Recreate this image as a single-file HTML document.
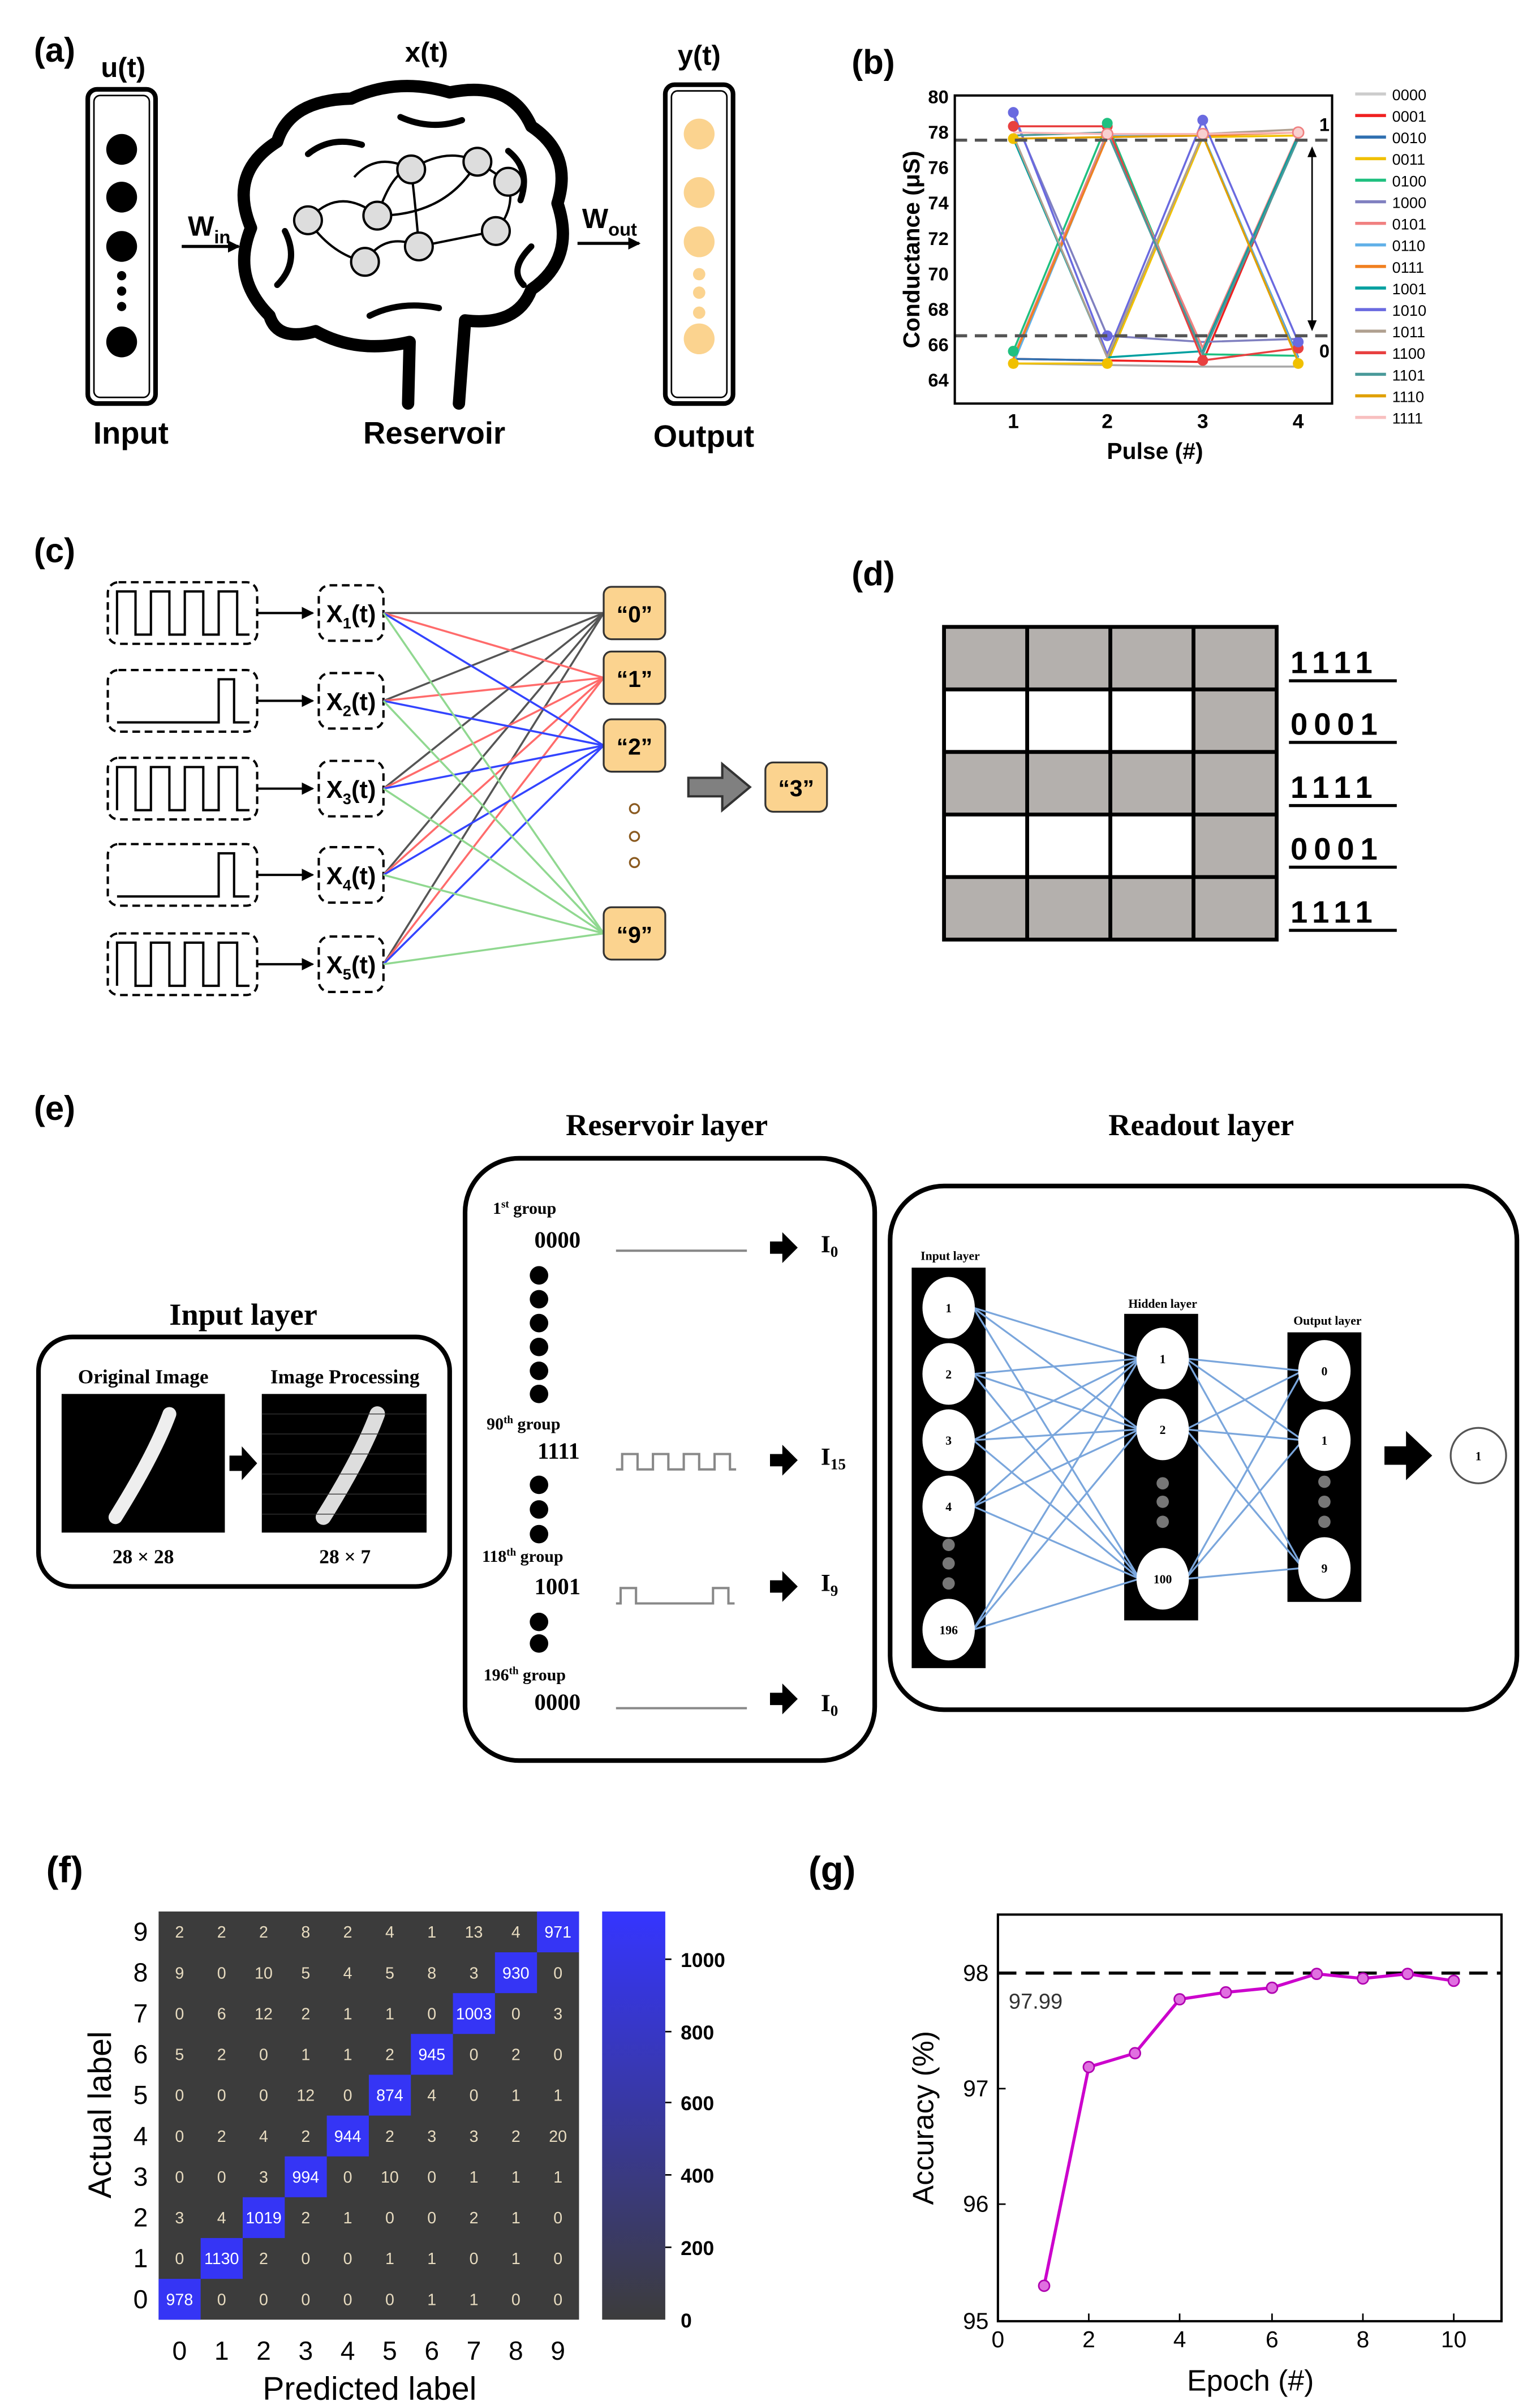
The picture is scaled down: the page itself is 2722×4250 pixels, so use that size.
<!DOCTYPE html>
<html><head><meta charset="utf-8"><style>
html,body{margin:0;padding:0;background:#fff;}
svg{display:block;}
.b{font-family:"Liberation Sans",sans-serif;font-weight:bold;}
.s{font-family:"Liberation Serif",serif;font-weight:bold;}
.r{font-family:"Liberation Sans",sans-serif;}
</style></head><body>
<svg width="2722" height="4250" viewBox="0 0 1000 1561.4" preserveAspectRatio="none" xmlns="http://www.w3.org/2000/svg">
<defs>
<linearGradient id="cb" x1="0" y1="1" x2="0" y2="0"><stop offset="0" stop-color="#3c3c3c"/><stop offset="1" stop-color="#3535ff"/></linearGradient>
<marker id="ah" markerWidth="8" markerHeight="8" refX="7" refY="4" orient="auto" markerUnits="userSpaceOnUse"><path d="M0,0 L8,4 L0,8 Z" fill="#000"/></marker>
</defs>

<!-- (a) -->
<text x="22" y="40" class="b" font-size="22">(a)</text>
<text x="80" y="50" class="b" font-size="18" text-anchor="middle">u(t)</text>
<rect x="57" y="58" width="44" height="204" rx="6" fill="#fff" stroke="#000" stroke-width="3"/>
<rect x="61" y="62" width="36" height="196" rx="4" fill="none" stroke="#000" stroke-width="1"/>
<circle cx="79" cy="97" r="10"/><circle cx="79" cy="128" r="10"/><circle cx="79" cy="160" r="10"/>
<circle cx="79" cy="179" r="3"/><circle cx="79" cy="189" r="3"/><circle cx="79" cy="199" r="3"/>
<circle cx="79" cy="222" r="10"/>
<text x="85" y="288" class="b" font-size="20" text-anchor="middle">Input</text>
<text x="122" y="153" class="b" font-size="18">W<tspan font-size="12" dy="5">in</tspan></text>
<line x1="118" y1="160" x2="155" y2="160" stroke="#000" stroke-width="2" marker-end="url(#ah)"/>
<text x="277" y="40" class="b" font-size="18" text-anchor="middle">x(t)</text>
<path d="M175,205 Q150,180 163,148 Q148,112 180,92 Q188,65 228,64 Q258,50 292,60 Q332,52 345,82 Q372,100 362,132 Q374,168 345,188 Q336,212 302,208 L298,262 M265,262 L266,222 Q232,230 205,215 Q180,222 175,205" fill="none" stroke="#000" stroke-width="8" stroke-linejoin="round" stroke-linecap="round"/>
<path d="M200,100 Q215,88 235,94 M260,76 Q280,85 300,78 M330,98 Q345,110 338,130 M185,150 Q195,170 180,185 M240,205 Q260,195 285,200 M345,160 Q330,175 340,185" fill="none" stroke="#000" stroke-width="4" stroke-linecap="round"/>
<g stroke="#000" stroke-width="1.5" fill="none">
<path d="M200,143 Q220,120 245,140"/><path d="M245,140 Q255,110 267,110"/><path d="M267,110 Q290,95 310,105"/><path d="M310,105 L330,118"/>
<path d="M237,170 Q250,150 272,160"/><path d="M272,160 L322,150"/><path d="M322,150 Q335,135 330,118"/><path d="M200,143 Q215,165 237,170"/>
<path d="M267,110 Q270,135 272,160"/><path d="M245,140 Q290,140 310,105"/><path d="M230,115 Q245,98 267,110"/>
</g>
<g fill="#ddd" stroke="#000" stroke-width="1.5">
<circle cx="245" cy="140" r="9"/><circle cx="267" cy="110" r="9"/><circle cx="310" cy="105" r="9"/><circle cx="330" cy="118" r="9"/>
<circle cx="200" cy="143" r="9"/><circle cx="237" cy="170" r="9"/><circle cx="272" cy="160" r="9"/><circle cx="322" cy="150" r="9"/>
</g>
<text x="282" y="288" class="b" font-size="20" text-anchor="middle">Reservoir</text>
<text x="378" y="148" class="b" font-size="18">W<tspan font-size="12" dy="5">out</tspan></text>
<line x1="375" y1="158" x2="415" y2="158" stroke="#000" stroke-width="2" marker-end="url(#ah)"/>
<text x="454" y="42" class="b" font-size="18" text-anchor="middle">y(t)</text>
<rect x="432" y="55" width="44" height="207" rx="6" fill="#fff" stroke="#000" stroke-width="3"/>
<rect x="436" y="59" width="36" height="199" rx="4" fill="none" stroke="#000" stroke-width="1"/>
<g fill="#fbd38f"><circle cx="454" cy="87" r="10"/><circle cx="454" cy="125" r="10"/><circle cx="454" cy="157" r="10"/><circle cx="454" cy="178" r="4"/><circle cx="454" cy="190" r="4"/><circle cx="454" cy="203" r="4"/><circle cx="454" cy="220" r="10"/></g>
<text x="457" y="290" class="b" font-size="20" text-anchor="middle">Output</text>

<!-- (b) -->
<text x="553" y="48" class="b" font-size="22">(b)</text>
<g class="b" font-size="12" text-anchor="end">
<text x="616" y="67">80</text><text x="616" y="90">78</text><text x="616" y="113">76</text><text x="616" y="136">74</text><text x="616" y="159">72</text><text x="616" y="182">70</text><text x="616" y="205">68</text><text x="616" y="228">66</text><text x="616" y="251">64</text>
</g>
<g class="b" font-size="13" text-anchor="middle"><text x="658" y="278">1</text><text x="719" y="278">2</text><text x="781" y="278">3</text><text x="843" y="278">4</text></g>
<text x="750" y="298" class="b" font-size="15" text-anchor="middle">Pulse (#)</text>
<text transform="translate(597,162) rotate(-90)" class="b" font-size="15" text-anchor="middle">Conductance (μS)</text>
<g fill="none" stroke-width="1.3">
<polyline points="658,236 719,237 781,238 843,238" stroke="#aaa"/>
<polyline points="658,233 719,234 781,235 843,88" stroke="#f02020"/>
<polyline points="658,233 719,234 781,88 843,232" stroke="#3070b0"/>
<polyline points="658,236 719,236 781,89 843,88" stroke="#f0c000"/>
<polyline points="658,228 719,80 781,230 843,231" stroke="#20c080"/>
<polyline points="658,75 719,218 781,222 843,220" stroke="#8080c0"/>
<polyline points="658,232 719,86 781,226 843,87" stroke="#f08080"/>
<polyline points="658,236 719,88 781,87 843,233" stroke="#60b0e8"/>
<polyline points="658,233 719,89 781,88 843,86" stroke="#f08020"/>
<polyline points="658,90 719,232 781,228 843,88" stroke="#00a0a0"/>
<polyline points="658,73 719,230 781,78 843,222" stroke="#6a6ae0"/>
<polyline points="658,88 719,232 781,87 843,84" stroke="#b0a090"/>
<polyline points="658,82 719,82 781,234 843,226" stroke="#e84040"/>
<polyline points="658,88 719,86 781,230 843,90" stroke="#4a9a9a"/>
<polyline points="658,90 719,89 781,88 843,235" stroke="#e0a000"/>
<polyline points="658,86 719,87 781,87 843,86" stroke="#f8b8b8"/>
</g>
<g fill="#e84040"><circle cx="658" cy="82" r="3.5"/><circle cx="719" cy="82" r="3.5"/><circle cx="781" cy="234" r="3.5"/><circle cx="843" cy="226" r="3.5"/></g>
<g fill="#20c080"><circle cx="658" cy="228" r="3.5"/><circle cx="719" cy="80" r="3.5"/></g>
<g fill="#6a6ae0"><circle cx="658" cy="73" r="3.5"/><circle cx="781" cy="78" r="3.5"/><circle cx="719" cy="218" r="3.5"/><circle cx="843" cy="222" r="3.5"/></g>
<g fill="#f0c000"><circle cx="658" cy="236" r="3.5"/><circle cx="719" cy="236" r="3.5"/><circle cx="843" cy="236" r="3.5"/><circle cx="658" cy="90" r="3.5"/></g>
<g fill="#f8d0d0" stroke="#f08080" stroke-width="1"><circle cx="719" cy="87" r="3.5"/><circle cx="781" cy="87" r="3.5"/><circle cx="843" cy="86" r="3.5"/></g>
<line x1="620" y1="91" x2="865" y2="91" stroke="#555" stroke-width="2" stroke-dasharray="8,5"/>
<line x1="620" y1="218" x2="865" y2="218" stroke="#555" stroke-width="2" stroke-dasharray="8,5"/>
<rect x="620" y="62" width="245" height="200" fill="none" stroke="#000" stroke-width="1.5"/>
<line x1="852" y1="97" x2="852" y2="213" stroke="#000" stroke-width="1"/>
<path d="M849,102 L852,95 L855,102Z M849,208 L852,215 L855,208Z"/>
<text x="860" y="85" class="b" font-size="12" text-anchor="middle">1</text>
<text x="860" y="232" class="b" font-size="12" text-anchor="middle">0</text>
<g class="r" font-size="10">
<g stroke-width="2">
<line x1="880" y1="61" x2="900" y2="61" stroke="#ccc"/><line x1="880" y1="75" x2="900" y2="75" stroke="#f02020"/><line x1="880" y1="89" x2="900" y2="89" stroke="#3070b0"/><line x1="880" y1="103" x2="900" y2="103" stroke="#f0c000"/><line x1="880" y1="117" x2="900" y2="117" stroke="#20c080"/><line x1="880" y1="131" x2="900" y2="131" stroke="#8080c0"/><line x1="880" y1="145" x2="900" y2="145" stroke="#f08080"/><line x1="880" y1="159" x2="900" y2="159" stroke="#60b0e8"/><line x1="880" y1="173" x2="900" y2="173" stroke="#f08020"/><line x1="880" y1="187" x2="900" y2="187" stroke="#00a0a0"/><line x1="880" y1="201" x2="900" y2="201" stroke="#6a6ae0"/><line x1="880" y1="215" x2="900" y2="215" stroke="#b0a090"/><line x1="880" y1="229" x2="900" y2="229" stroke="#e84040"/><line x1="880" y1="243" x2="900" y2="243" stroke="#4a9a9a"/><line x1="880" y1="257" x2="900" y2="257" stroke="#e0a000"/><line x1="880" y1="271" x2="900" y2="271" stroke="#f8c0c0"/>
</g>
<text x="904" y="65">0000</text><text x="904" y="79">0001</text><text x="904" y="93">0010</text><text x="904" y="107">0011</text><text x="904" y="121">0100</text><text x="904" y="135">1000</text><text x="904" y="149">0101</text><text x="904" y="163">0110</text><text x="904" y="177">0111</text><text x="904" y="191">1001</text><text x="904" y="205">1010</text><text x="904" y="219">1011</text><text x="904" y="233">1100</text><text x="904" y="247">1101</text><text x="904" y="261">1110</text><text x="904" y="275">1111</text>
</g>

<!-- (c) -->
<text x="22" y="365" class="b" font-size="22">(c)</text>
<g fill="none" stroke="#000" stroke-width="1.5" stroke-dasharray="5,3">
<rect x="70" y="378" width="97" height="40" rx="7"/><rect x="70" y="435" width="97" height="40" rx="7"/><rect x="70" y="492" width="97" height="40" rx="7"/><rect x="70" y="548" width="97" height="40" rx="7"/><rect x="70" y="606" width="97" height="40" rx="7"/>
<rect x="207" y="380" width="42" height="36" rx="7"/><rect x="207" y="437" width="42" height="36" rx="7"/><rect x="207" y="494" width="42" height="36" rx="7"/><rect x="207" y="550" width="42" height="36" rx="7"/><rect x="207" y="608" width="42" height="36" rx="7"/>
</g>
<g fill="none" stroke="#000" stroke-width="1.5">
<path d="M76,412 v-28 h12 v28 h10 v-28 h12 v28 h10 v-28 h12 v28 h10 v-28 h12 v28 h8"/>
<path d="M76,469 h66 v-28 h10 v28 h10"/>
<path d="M76,526 v-28 h12 v28 h10 v-28 h12 v28 h10 v-28 h12 v28 h10 v-28 h12 v28 h8"/>
<path d="M76,582 h66 v-28 h10 v28 h10"/>
<path d="M76,640 v-28 h12 v28 h10 v-28 h12 v28 h10 v-28 h12 v28 h10 v-28 h12 v28 h8"/>
</g>
<g stroke="#000" stroke-width="1.5">
<line x1="167" y1="398" x2="203" y2="398" marker-end="url(#ah)"/><line x1="167" y1="455" x2="203" y2="455" marker-end="url(#ah)"/><line x1="167" y1="512" x2="203" y2="512" marker-end="url(#ah)"/><line x1="167" y1="568" x2="203" y2="568" marker-end="url(#ah)"/><line x1="167" y1="626" x2="203" y2="626" marker-end="url(#ah)"/>
</g>
<g class="b" font-size="16" text-anchor="middle">
<text x="228" y="404">X<tspan font-size="10" dy="4">1</tspan><tspan dy="-4">(t)</tspan></text>
<text x="228" y="461">X<tspan font-size="10" dy="4">2</tspan><tspan dy="-4">(t)</tspan></text>
<text x="228" y="518">X<tspan font-size="10" dy="4">3</tspan><tspan dy="-4">(t)</tspan></text>
<text x="228" y="574">X<tspan font-size="10" dy="4">4</tspan><tspan dy="-4">(t)</tspan></text>
<text x="228" y="632">X<tspan font-size="10" dy="4">5</tspan><tspan dy="-4">(t)</tspan></text>
</g>
<g stroke-width="1.3">
<g stroke="#555"><line x1="249" y1="398" x2="392" y2="398"/><line x1="249" y1="455" x2="392" y2="398"/><line x1="249" y1="512" x2="392" y2="398"/><line x1="249" y1="568" x2="392" y2="398"/><line x1="249" y1="626" x2="392" y2="398"/></g>
<g stroke="#ff6b6b"><line x1="249" y1="398" x2="392" y2="440"/><line x1="249" y1="455" x2="392" y2="440"/><line x1="249" y1="512" x2="392" y2="440"/><line x1="249" y1="568" x2="392" y2="440"/><line x1="249" y1="626" x2="392" y2="440"/></g>
<g stroke="#3344ff"><line x1="249" y1="398" x2="392" y2="484"/><line x1="249" y1="455" x2="392" y2="484"/><line x1="249" y1="512" x2="392" y2="484"/><line x1="249" y1="568" x2="392" y2="484"/><line x1="249" y1="626" x2="392" y2="484"/></g>
<g stroke="#90d890"><line x1="249" y1="398" x2="392" y2="606"/><line x1="249" y1="455" x2="392" y2="606"/><line x1="249" y1="512" x2="392" y2="606"/><line x1="249" y1="568" x2="392" y2="606"/><line x1="249" y1="626" x2="392" y2="606"/></g>
</g>
<g fill="#fbd38f" stroke="#333" stroke-width="1.2">
<rect x="392" y="381" width="40" height="34" rx="5"/><rect x="392" y="423" width="40" height="34" rx="5"/><rect x="392" y="467" width="40" height="34" rx="5"/><rect x="392" y="589" width="40" height="34" rx="5"/><rect x="497" y="495" width="40" height="32" rx="5"/>
</g>
<g fill="none" stroke="#8a5a20" stroke-width="1.2"><circle cx="412" cy="525" r="3"/><circle cx="412" cy="543" r="3"/><circle cx="412" cy="560" r="3"/></g>
<g class="b" font-size="15" text-anchor="middle"><text x="412" y="404">“0”</text><text x="412" y="446">“1”</text><text x="412" y="490">“2”</text><text x="412" y="612">“9”</text><text x="517" y="517">“3”</text></g>
<path d="M447,505 h22 v-9 l18,15 l-18,15 v-9 h-22 Z" fill="#808080" stroke="#333" stroke-width="1.5"/>

<!-- (d) -->
<text x="553" y="380" class="b" font-size="22">(d)</text>
<g fill="#b4b0ad"><rect x="613" y="407" width="216" height="40.6"/><rect x="613" y="488.2" width="216" height="40.6"/><rect x="613" y="569.4" width="216" height="40.6"/><rect x="775" y="447.6" width="54" height="40.6"/><rect x="775" y="528.8" width="54" height="40.6"/></g>
<g stroke="#000" stroke-width="2.5" fill="none">
<rect x="613" y="407" width="216" height="203"/>
<line x1="667" y1="407" x2="667" y2="610"/><line x1="721" y1="407" x2="721" y2="610"/><line x1="775" y1="407" x2="775" y2="610"/>
<line x1="613" y1="447.6" x2="829" y2="447.6"/><line x1="613" y1="488.2" x2="829" y2="488.2"/><line x1="613" y1="528.8" x2="829" y2="528.8"/><line x1="613" y1="569.4" x2="829" y2="569.4"/>
</g>
<g class="b" font-size="20"><text x="838" y="437" letter-spacing="4">1111</text><text x="838" y="477" letter-spacing="4">0001</text><text x="838" y="518" letter-spacing="4">1111</text><text x="838" y="558" letter-spacing="4">0001</text><text x="838" y="599" letter-spacing="4">1111</text></g>
<g stroke="#000" stroke-width="2"><line x1="837" y1="442" x2="907" y2="442"/><line x1="837" y1="482" x2="907" y2="482"/><line x1="837" y1="523" x2="907" y2="523"/><line x1="837" y1="563" x2="907" y2="563"/><line x1="837" y1="604" x2="907" y2="604"/></g>

<!-- (e) -->
<text x="22" y="727" class="b" font-size="22">(e)</text>
<text x="158" y="860" class="s" font-size="20" text-anchor="middle">Input layer</text>
<rect x="25" y="868" width="267" height="162" rx="22" fill="none" stroke="#000" stroke-width="3"/>
<text x="93" y="898" class="s" font-size="13" text-anchor="middle">Original Image</text>
<text x="224" y="898" class="s" font-size="13" text-anchor="middle">Image Processing</text>
<rect x="40" y="905" width="106" height="90" fill="#000"/>
<path d="M110,918 Q100,945 75,985" stroke="#eee" stroke-width="9" fill="none" stroke-linecap="round"/>
<rect x="170" y="905" width="107" height="90" fill="#000"/>
<path d="M245,918 Q235,945 210,985" stroke="#ddd" stroke-width="10" fill="none" stroke-linecap="round"/>
<g stroke="#333" stroke-width="0.5"><line x1="170" y1="918" x2="277" y2="918"/><line x1="170" y1="931" x2="277" y2="931"/><line x1="170" y1="944" x2="277" y2="944"/><line x1="170" y1="957" x2="277" y2="957"/><line x1="170" y1="970" x2="277" y2="970"/><line x1="170" y1="983" x2="277" y2="983"/></g>
<path d="M149,945 h8 v-6 l10,11 l-10,11 v-6 h-8 Z"/>
<text x="93" y="1015" class="s" font-size="13" text-anchor="middle">28 × 28</text>
<text x="224" y="1015" class="s" font-size="13" text-anchor="middle">28 × 7</text>

<text x="433" y="737" class="s" font-size="20" text-anchor="middle">Reservoir layer</text>
<rect x="302" y="752" width="266" height="391" rx="35" fill="none" stroke="#000" stroke-width="3"/>
<g class="s" font-size="11"><text x="320" y="788">1<tspan font-size="7" dy="-4">st</tspan><tspan dy="4"> group</tspan></text>
<text x="316" y="928">90<tspan font-size="7" dy="-4">th</tspan><tspan dy="4"> group</tspan></text>
<text x="313" y="1014">118<tspan font-size="7" dy="-4">th</tspan><tspan dy="4"> group</tspan></text>
<text x="314" y="1091">196<tspan font-size="7" dy="-4">th</tspan><tspan dy="4"> group</tspan></text></g>
<g class="s" font-size="15"><text x="347" y="810">0000</text><text x="349" y="947">1111</text><text x="347" y="1035">1001</text><text x="347" y="1110">0000</text></g>
<g><circle cx="350" cy="828" r="6"/><circle cx="350" cy="843.5" r="6"/><circle cx="350" cy="859" r="6"/><circle cx="350" cy="874.5" r="6"/><circle cx="350" cy="890" r="6"/><circle cx="350" cy="905" r="6"/>
<circle cx="350" cy="964" r="6"/><circle cx="350" cy="980" r="6"/><circle cx="350" cy="996" r="6"/><circle cx="350" cy="1053" r="6"/><circle cx="350" cy="1067" r="6"/></g>
<g fill="none" stroke="#888" stroke-width="1.5">
<line x1="400" y1="812" x2="485" y2="812"/>
<path d="M400,954 h4 v-10 h10 v10 h10 v-10 h10 v10 h10 v-10 h10 v10 h10 v-10 h10 v10 h4"/>
<path d="M400,1041 h3 v-10 h10 v10 h50 v-10 h10 v10 h4"/>
<line x1="400" y1="1109" x2="485" y2="1109"/>
</g>
<g><path d="M500,806 h8 v-6 l10,10 l-10,10 v-6 h-8Z"/><path d="M500,944 h8 v-6 l10,10 l-10,10 v-6 h-8Z"/><path d="M500,1026 h8 v-6 l10,10 l-10,10 v-6 h-8Z"/><path d="M500,1099 h8 v-6 l10,10 l-10,10 v-6 h-8Z"/></g>
<g class="s" font-size="16"><text x="533" y="813">I<tspan font-size="10" dy="3">0</tspan></text><text x="533" y="951">I<tspan font-size="10" dy="3">15</tspan></text><text x="533" y="1033">I<tspan font-size="10" dy="3">9</tspan></text><text x="533" y="1111">I<tspan font-size="10" dy="3">0</tspan></text></g>

<text x="780" y="737" class="s" font-size="20" text-anchor="middle">Readout layer</text>
<rect x="578" y="770" width="407" height="340" rx="35" fill="none" stroke="#000" stroke-width="3"/>
<g class="s" font-size="8" text-anchor="middle"><text x="617" y="818">Input layer</text><text x="755" y="849">Hidden layer</text><text x="862" y="860">Output layer</text></g>
<rect x="592" y="823" width="48" height="260" fill="#000"/>
<rect x="730" y="853" width="48" height="199" fill="#000"/>
<rect x="836" y="865" width="48" height="175" fill="#000"/>
<g stroke="#7aa6dc" stroke-width="1.2">
<line x1="632" y1="849" x2="740" y2="882"/><line x1="632" y1="849" x2="740" y2="928"/><line x1="632" y1="849" x2="740" y2="1025"/>
<line x1="632" y1="892" x2="740" y2="882"/><line x1="632" y1="892" x2="740" y2="928"/><line x1="632" y1="892" x2="740" y2="1025"/>
<line x1="632" y1="935" x2="740" y2="882"/><line x1="632" y1="935" x2="740" y2="928"/><line x1="632" y1="935" x2="740" y2="1025"/>
<line x1="632" y1="978" x2="740" y2="882"/><line x1="632" y1="978" x2="740" y2="928"/><line x1="632" y1="978" x2="740" y2="1025"/>
<line x1="632" y1="1058" x2="740" y2="882"/><line x1="632" y1="1058" x2="740" y2="928"/><line x1="632" y1="1058" x2="740" y2="1025"/>
<line x1="770" y1="882" x2="846" y2="890"/><line x1="770" y1="882" x2="846" y2="935"/><line x1="770" y1="882" x2="846" y2="1018"/>
<line x1="770" y1="928" x2="846" y2="890"/><line x1="770" y1="928" x2="846" y2="935"/><line x1="770" y1="928" x2="846" y2="1018"/>
<line x1="770" y1="1025" x2="846" y2="890"/><line x1="770" y1="1025" x2="846" y2="935"/><line x1="770" y1="1025" x2="846" y2="1018"/>
</g>
<g fill="#fff"><ellipse cx="616" cy="849" rx="17" ry="20"/><ellipse cx="616" cy="892" rx="17" ry="20"/><ellipse cx="616" cy="935" rx="17" ry="20"/><ellipse cx="616" cy="978" rx="17" ry="20"/><ellipse cx="616" cy="1058" rx="17" ry="20"/>
<ellipse cx="755" cy="882" rx="17" ry="20"/><ellipse cx="755" cy="928" rx="17" ry="20"/><ellipse cx="755" cy="1025" rx="17" ry="20"/>
<ellipse cx="860" cy="890" rx="17" ry="20"/><ellipse cx="860" cy="935" rx="17" ry="20"/><ellipse cx="860" cy="1018" rx="17" ry="20"/></g>
<g fill="#777"><circle cx="616" cy="1003" r="4"/><circle cx="616" cy="1015" r="4"/><circle cx="616" cy="1028" r="4"/><circle cx="755" cy="963" r="4"/><circle cx="755" cy="975" r="4"/><circle cx="755" cy="988" r="4"/><circle cx="860" cy="962" r="4"/><circle cx="860" cy="975" r="4"/><circle cx="860" cy="988" r="4"/></g>
<g class="s" font-size="8" text-anchor="middle"><text x="616" y="852">1</text><text x="616" y="895">2</text><text x="616" y="938">3</text><text x="616" y="981">4</text><text x="616" y="1061">196</text><text x="755" y="885">1</text><text x="755" y="931">2</text><text x="755" y="1028">100</text><text x="860" y="893">0</text><text x="860" y="938">1</text><text x="860" y="1021">9</text><text x="960" y="948">1</text></g>
<path d="M899,939 h14 v-10 l17,16 l-17,16 v-10 h-14Z"/>
<circle cx="960" cy="945" r="18" fill="none" stroke="#555" stroke-width="1.2"/>

<!-- (f) -->
<text x="30" y="1222" class="b" font-size="24">(f)</text>
<rect x="103" y="1241" width="273" height="265" fill="#3c3c3c"/>
<g fill="#3535f5">
<rect x="103" y="1479.5" width="27.3" height="26.5"/><rect x="130.3" y="1453" width="27.3" height="26.5"/><rect x="157.6" y="1426.5" width="27.3" height="26.5"/><rect x="184.9" y="1400" width="27.3" height="26.5"/><rect x="212.2" y="1373.5" width="27.3" height="26.5"/><rect x="239.5" y="1347" width="27.3" height="26.5"/><rect x="266.8" y="1320.5" width="27.3" height="26.5"/><rect x="294.1" y="1294" width="27.3" height="26.5"/><rect x="321.4" y="1267.5" width="27.3" height="26.5"/><rect x="348.7" y="1241" width="27.3" height="26.5"/>
</g>
<g class="r" font-size="10.5" fill="#e8dcc0" text-anchor="middle">
<text x="116.6" y="1258">2</text><text x="143.9" y="1258">2</text><text x="171.2" y="1258">2</text><text x="198.5" y="1258">8</text><text x="225.8" y="1258">2</text><text x="253.1" y="1258">4</text><text x="280.4" y="1258">1</text><text x="307.7" y="1258">13</text><text x="335" y="1258">4</text><text x="362.3" y="1258" fill="#fff">971</text>
<text x="116.6" y="1284.5">9</text><text x="143.9" y="1284.5">0</text><text x="171.2" y="1284.5">10</text><text x="198.5" y="1284.5">5</text><text x="225.8" y="1284.5">4</text><text x="253.1" y="1284.5">5</text><text x="280.4" y="1284.5">8</text><text x="307.7" y="1284.5">3</text><text x="335" y="1284.5" fill="#fff">930</text><text x="362.3" y="1284.5">0</text>
<text x="116.6" y="1311">0</text><text x="143.9" y="1311">6</text><text x="171.2" y="1311">12</text><text x="198.5" y="1311">2</text><text x="225.8" y="1311">1</text><text x="253.1" y="1311">1</text><text x="280.4" y="1311">0</text><text x="307.7" y="1311" fill="#fff">1003</text><text x="335" y="1311">0</text><text x="362.3" y="1311">3</text>
<text x="116.6" y="1337.5">5</text><text x="143.9" y="1337.5">2</text><text x="171.2" y="1337.5">0</text><text x="198.5" y="1337.5">1</text><text x="225.8" y="1337.5">1</text><text x="253.1" y="1337.5">2</text><text x="280.4" y="1337.5" fill="#fff">945</text><text x="307.7" y="1337.5">0</text><text x="335" y="1337.5">2</text><text x="362.3" y="1337.5">0</text>
<text x="116.6" y="1364">0</text><text x="143.9" y="1364">0</text><text x="171.2" y="1364">0</text><text x="198.5" y="1364">12</text><text x="225.8" y="1364">0</text><text x="253.1" y="1364" fill="#fff">874</text><text x="280.4" y="1364">4</text><text x="307.7" y="1364">0</text><text x="335" y="1364">1</text><text x="362.3" y="1364">1</text>
<text x="116.6" y="1390.5">0</text><text x="143.9" y="1390.5">2</text><text x="171.2" y="1390.5">4</text><text x="198.5" y="1390.5">2</text><text x="225.8" y="1390.5" fill="#fff">944</text><text x="253.1" y="1390.5">2</text><text x="280.4" y="1390.5">3</text><text x="307.7" y="1390.5">3</text><text x="335" y="1390.5">2</text><text x="362.3" y="1390.5">20</text>
<text x="116.6" y="1417">0</text><text x="143.9" y="1417">0</text><text x="171.2" y="1417">3</text><text x="198.5" y="1417" fill="#fff">994</text><text x="225.8" y="1417">0</text><text x="253.1" y="1417">10</text><text x="280.4" y="1417">0</text><text x="307.7" y="1417">1</text><text x="335" y="1417">1</text><text x="362.3" y="1417">1</text>
<text x="116.6" y="1443.5">3</text><text x="143.9" y="1443.5">4</text><text x="171.2" y="1443.5" fill="#fff">1019</text><text x="198.5" y="1443.5">2</text><text x="225.8" y="1443.5">1</text><text x="253.1" y="1443.5">0</text><text x="280.4" y="1443.5">0</text><text x="307.7" y="1443.5">2</text><text x="335" y="1443.5">1</text><text x="362.3" y="1443.5">0</text>
<text x="116.6" y="1470">0</text><text x="143.9" y="1470" fill="#fff">1130</text><text x="171.2" y="1470">2</text><text x="198.5" y="1470">0</text><text x="225.8" y="1470">0</text><text x="253.1" y="1470">1</text><text x="280.4" y="1470">1</text><text x="307.7" y="1470">0</text><text x="335" y="1470">1</text><text x="362.3" y="1470">0</text>
<text x="116.6" y="1496.5" fill="#fff">978</text><text x="143.9" y="1496.5">0</text><text x="171.2" y="1496.5">0</text><text x="198.5" y="1496.5">0</text><text x="225.8" y="1496.5">0</text><text x="253.1" y="1496.5">0</text><text x="280.4" y="1496.5">1</text><text x="307.7" y="1496.5">1</text><text x="335" y="1496.5">0</text><text x="362.3" y="1496.5">0</text>
</g>
<g class="r" font-size="17" text-anchor="end">
<text x="96" y="1260">9</text><text x="96" y="1286.5">8</text><text x="96" y="1313">7</text><text x="96" y="1339.5">6</text><text x="96" y="1366">5</text><text x="96" y="1392.5">4</text><text x="96" y="1419">3</text><text x="96" y="1445.5">2</text><text x="96" y="1472">1</text><text x="96" y="1498.5">0</text>
</g>
<g class="r" font-size="17" text-anchor="middle">
<text x="116.6" y="1532">0</text><text x="143.9" y="1532">1</text><text x="171.2" y="1532">2</text><text x="198.5" y="1532">3</text><text x="225.8" y="1532">4</text><text x="253.1" y="1532">5</text><text x="280.4" y="1532">6</text><text x="307.7" y="1532">7</text><text x="335" y="1532">8</text><text x="362.3" y="1532">9</text>
</g>
<text x="240" y="1558" class="r" font-size="21" text-anchor="middle">Predicted label</text>
<text transform="translate(72,1373) rotate(-90)" class="r" font-size="21" text-anchor="middle">Actual label</text>
<rect x="391" y="1241" width="41" height="265" fill="url(#cb)"/>
<g class="b" font-size="13"><text x="442" y="1277">1000</text><text x="442" y="1324">800</text><text x="442" y="1370">600</text><text x="442" y="1417">400</text><text x="442" y="1464">200</text><text x="442" y="1511">0</text></g>
<g stroke="#000"><line x1="432" y1="1272" x2="436" y2="1272"/><line x1="432" y1="1319" x2="436" y2="1319"/><line x1="432" y1="1365" x2="436" y2="1365"/><line x1="432" y1="1412" x2="436" y2="1412"/><line x1="432" y1="1459" x2="436" y2="1459"/></g>

<!-- (g) -->
<text x="525" y="1222" class="b" font-size="24">(g)</text>
<rect x="648" y="1243" width="327" height="264" fill="none" stroke="#000" stroke-width="1.5"/>
<line x1="648" y1="1281" x2="975" y2="1281" stroke="#000" stroke-width="2" stroke-dasharray="12,6"/>
<text x="655" y="1304" class="r" font-size="14" fill="#333">97.99</text>
<g class="r" font-size="15" text-anchor="end"><text x="642" y="1512">95</text><text x="642" y="1436">96</text><text x="642" y="1361">97</text><text x="642" y="1286">98</text></g>
<g class="r" font-size="15" text-anchor="middle"><text x="648" y="1524">0</text><text x="707" y="1524">2</text><text x="766" y="1524">4</text><text x="826" y="1524">6</text><text x="885" y="1524">8</text><text x="944" y="1524">10</text></g>
<g stroke="#000"><line x1="707" y1="1507" x2="707" y2="1502"/><line x1="766" y1="1507" x2="766" y2="1502"/><line x1="826" y1="1507" x2="826" y2="1502"/><line x1="885" y1="1507" x2="885" y2="1502"/><line x1="944" y1="1507" x2="944" y2="1502"/><line x1="648" y1="1431" x2="653" y2="1431"/><line x1="648" y1="1356" x2="653" y2="1356"/></g>
<text x="812" y="1552" class="r" font-size="19" text-anchor="middle">Epoch (#)</text>
<text transform="translate(606,1375) rotate(-90)" class="r" font-size="19" text-anchor="middle">Accuracy (%)</text>
<polyline points="678,1484 707,1342 737,1333 766,1298 796,1293.5 826,1290.5 855,1281.5 885,1284.5 914,1281.5 944,1286" fill="none" stroke="#cc00cc" stroke-width="2"/>
<g fill="#e070e0" stroke="#b000b0" stroke-width="1"><circle cx="678" cy="1484" r="3.5"/><circle cx="707" cy="1342" r="3.5"/><circle cx="737" cy="1333" r="3.5"/><circle cx="766" cy="1298" r="3.5"/><circle cx="796" cy="1293.5" r="3.5"/><circle cx="826" cy="1290.5" r="3.5"/><circle cx="855" cy="1281.5" r="3.5"/><circle cx="885" cy="1284.5" r="3.5"/><circle cx="914" cy="1281.5" r="3.5"/><circle cx="944" cy="1286" r="3.5"/></g>
</svg>
</body></html>
